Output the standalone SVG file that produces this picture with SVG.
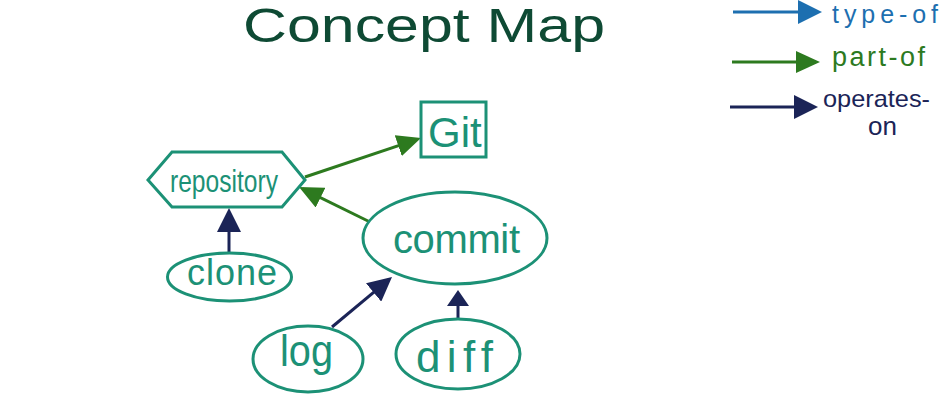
<svg xmlns="http://www.w3.org/2000/svg" width="941" height="412" viewBox="0 0 941 412">
<style>
  text { font-family: "Liberation Sans", Arial, sans-serif; }
  .node { fill: #ffffff; stroke: #1c9176; stroke-width: 3; }
  .label { fill: #1c9176; }
  .green { stroke: #2d7a1f; stroke-width: 3; fill: none; }
  .navy { stroke: #1b2457; stroke-width: 3; fill: none; }
  .blue { stroke: #1d6fb0; stroke-width: 3; fill: none; }
</style>
<defs>
  <marker id="hGreen" markerUnits="userSpaceOnUse" viewBox="0 0 24 22" markerWidth="24" markerHeight="22" refX="20" refY="11" orient="auto">
    <path d="M0,0 L24,11 L0,22 Z" fill="#2d7a1f"/>
  </marker>
  <marker id="hNavy" markerUnits="userSpaceOnUse" viewBox="0 0 24 24" markerWidth="24" markerHeight="24" refX="20" refY="12" orient="auto">
    <path d="M0,0 L24,12 L0,24 Z" fill="#1b2457"/>
  </marker>
  <marker id="hNavySmall" markerUnits="userSpaceOnUse" viewBox="0 0 16 22" markerWidth="16" markerHeight="22" refX="12" refY="11" orient="auto">
    <path d="M0,0 L16,11 L0,22 Z" fill="#1b2457"/>
  </marker>
  <marker id="hBlue" markerUnits="userSpaceOnUse" viewBox="0 0 24 24" markerWidth="24" markerHeight="24" refX="20" refY="12" orient="auto">
    <path d="M0,0 L24,12 L0,24 Z" fill="#1d6fb0"/>
  </marker>
</defs>
<rect width="941" height="412" fill="#ffffff"/>

<g id="title">
  <text x="243" y="42" font-size="48" fill="#0e4a34" textLength="362" lengthAdjust="spacingAndGlyphs">Concept Map</text>
</g>

<g id="legend">
  <line class="blue" x1="733" y1="12" x2="818" y2="12" marker-end="url(#hBlue)"/>
  <text x="832" y="23" font-size="25" fill="#1d6fb0" textLength="106">type-of</text>
  <line class="green" x1="732" y1="62" x2="816" y2="62" marker-end="url(#hGreen)"/>
  <text x="832" y="66" font-size="27" fill="#2d7a1f" textLength="93">part-of</text>
  <line class="navy" x1="730" y1="107" x2="814" y2="107" marker-end="url(#hNavy)"/>
  <text x="823" y="107" font-size="24" fill="#1b2457" textLength="107" lengthAdjust="spacingAndGlyphs">operates-</text>
  <text x="868" y="135" font-size="26" fill="#1b2457">on</text>
</g>

<g id="connectors">
  <line class="green" x1="305" y1="177" x2="417.2" y2="139.3" marker-end="url(#hGreen)"/>
  <line class="green" x1="370" y1="222" x2="302.6" y2="188.8" marker-end="url(#hGreen)"/>
  <line class="navy" x1="229" y1="253" x2="229" y2="212" marker-end="url(#hNavy)"/>
  <line class="navy" x1="332" y1="327" x2="388.9" y2="279.6" marker-end="url(#hNavy)"/>
  <line class="navy" x1="458" y1="318" x2="458" y2="294" marker-end="url(#hNavySmall)"/>
</g>

<g id="node-repository">
  <polygon class="node" points="148,180 172,152 282,152 305,180 282,207 172,207"/>
  <text class="label" x="170" y="192" font-size="32" textLength="108" lengthAdjust="spacingAndGlyphs">repository</text>
</g>

<g id="node-git">
  <rect class="node" x="421" y="102" width="65" height="55"/>
  <text class="label" x="428" y="147" font-size="42">Git</text>
</g>

<g id="node-commit">
  <ellipse class="node" cx="455" cy="238" rx="92" ry="46"/>
  <text class="label" x="393" y="253" font-size="40" textLength="127">commit</text>
</g>

<g id="node-clone">
  <ellipse class="node" cx="229.5" cy="277" rx="62" ry="24"/>
  <text class="label" x="187" y="285" font-size="36" textLength="90">clone</text>
</g>

<g id="node-log">
  <ellipse class="node" cx="308" cy="359" rx="55" ry="33"/>
  <text class="label" x="280" y="366" font-size="44" textLength="53" lengthAdjust="spacingAndGlyphs">log</text>
</g>

<g id="node-diff">
  <ellipse class="node" cx="458" cy="354" rx="62" ry="35"/>
  <text class="label" x="416" y="372" font-size="44" textLength="77">diff</text>
</g>
</svg>
